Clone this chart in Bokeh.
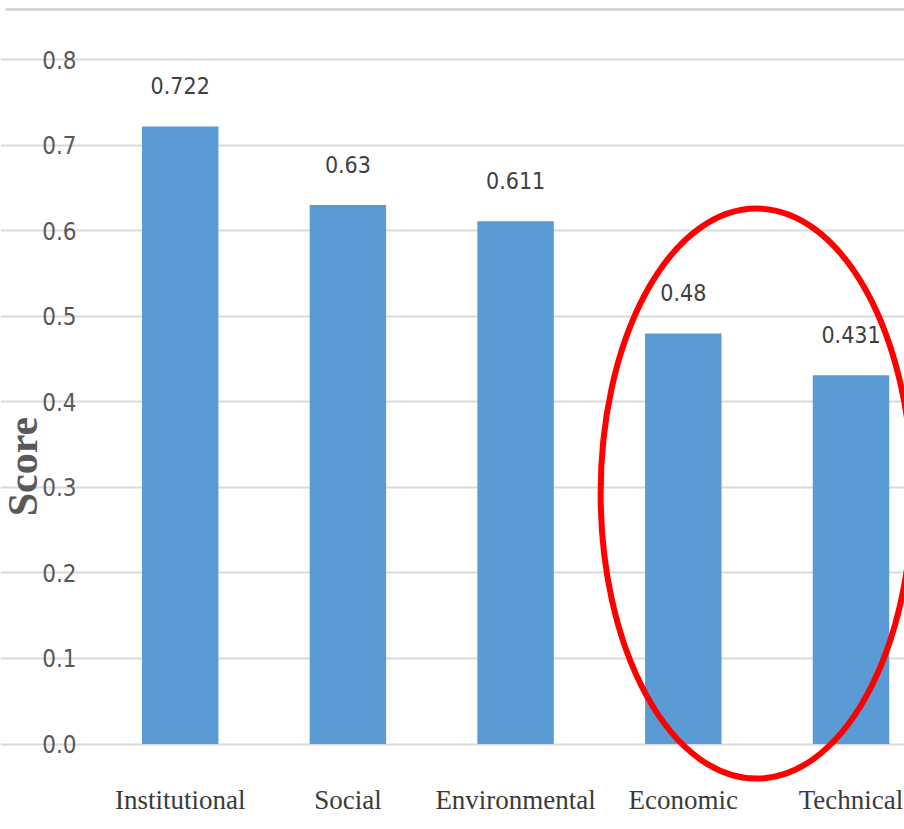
import math

from bokeh.plotting import figure
from bokeh.models import ColumnDataSource, FixedTicker, PrintfTickFormatter, Range1d
from bokeh.core.properties import value
from bokeh.embed import file_html
from bokeh.resources import INLINE

# Dimension scores
categories = ["Institutional", "Social", "Environmental", "Economic", "Technical"]
scores = [0.722, 0.63, 0.611, 0.48, 0.431]
score_ticks = [0.0, 0.1, 0.2, 0.3, 0.4, 0.5, 0.6, 0.7, 0.8]
highlighted = ["Economic", "Technical"]
y_title = "Score"

BAR_COLOR = "#5b9bd5"
GRID_COLOR = "#d9d9d9"
NARROW = "DejaVu Sans Condensed"
SERIF = "Liberation Serif"

x_pos = list(range(len(categories)))
src = ColumnDataSource(dict(
    x=x_pos,
    score=scores,
    label=[str(s) for s in scores],
))

p = figure(
    width=904, height=829,
    output_backend="svg", toolbar_location=None, tools="",
    x_range=Range1d(-1.0716, 4.319),
    y_range=Range1d(-0.0999, 0.8692),
    min_border=0, outline_line_color=None,
    background_fill_color="white", border_fill_color="white",
)

# gridlines, kept to the plotting area right of the tick labels
p.xgrid.visible = False
p.ygrid.ticker = FixedTicker(ticks=score_ticks)
p.ygrid.bounds = (-0.511, 4.5)
p.ygrid.grid_line_color = GRID_COLOR
p.ygrid.grid_line_width = 2

# top rule of the chart area
p.segment(x0=-1.042, y0=0.8587, x1=4.5, y1=0.8587,
          line_color=GRID_COLOR, line_width=3)

# bars and value labels
p.vbar(x="x", top="score", width=0.456, source=src,
       fill_color=BAR_COLOR, line_color=None)
p.text(x="x", y="score", text="label", source=src,
       y_offset=-41, text_align="center", text_baseline="middle",
       text_font=value(NARROW), text_font_size="23px", text_color="#404040")

# ring around the weakest dimensions
idx = [categories.index(c) for c in highlighted]
ring_x = sum(idx) / len(idx) - 0.063
ring_w = (max(idx) - min(idx)) + 0.86
ring_y = 0.2928
ring_h = 0.6664
p.ellipse(x=[ring_x], y=[ring_y], width=[ring_w], height=[ring_h],
          fill_color=None, line_color="#ff0000", line_width=6)

# y axis
ya = p.yaxis[0]
ya.fixed_location = -0.535
ya.ticker = FixedTicker(ticks=score_ticks)
ya.formatter = PrintfTickFormatter(format="%.1f")
ya.axis_line_color = None
ya.major_tick_line_color = None
ya.minor_tick_line_color = None
ya.major_label_standoff = 8
ya.major_label_text_font = NARROW
ya.major_label_text_font_size = "24px"
ya.major_label_text_color = "#595959"

# vertical axis title
p.text(x=[-0.940], y=[0.3244], text=[y_title], angle=math.pi / 2,
       text_align="center", text_baseline="middle",
       text_font=value(SERIF), text_font_style="bold",
       text_font_size="42px", text_color="#595959")

# x axis on the zero line
xa = p.xaxis[0]
xa.fixed_location = 0
xa.ticker = FixedTicker(ticks=x_pos)
xa.major_label_overrides = {i: c for i, c in enumerate(categories)}
xa.axis_line_color = None
xa.major_tick_line_color = None
xa.minor_tick_line_color = None
xa.major_label_standoff = 35
xa.major_label_text_font = SERIF
xa.major_label_text_font_size = "27px"
xa.major_label_text_color = "#3a3a3a"

open("out.html", "w").write(file_html(p, INLINE))
